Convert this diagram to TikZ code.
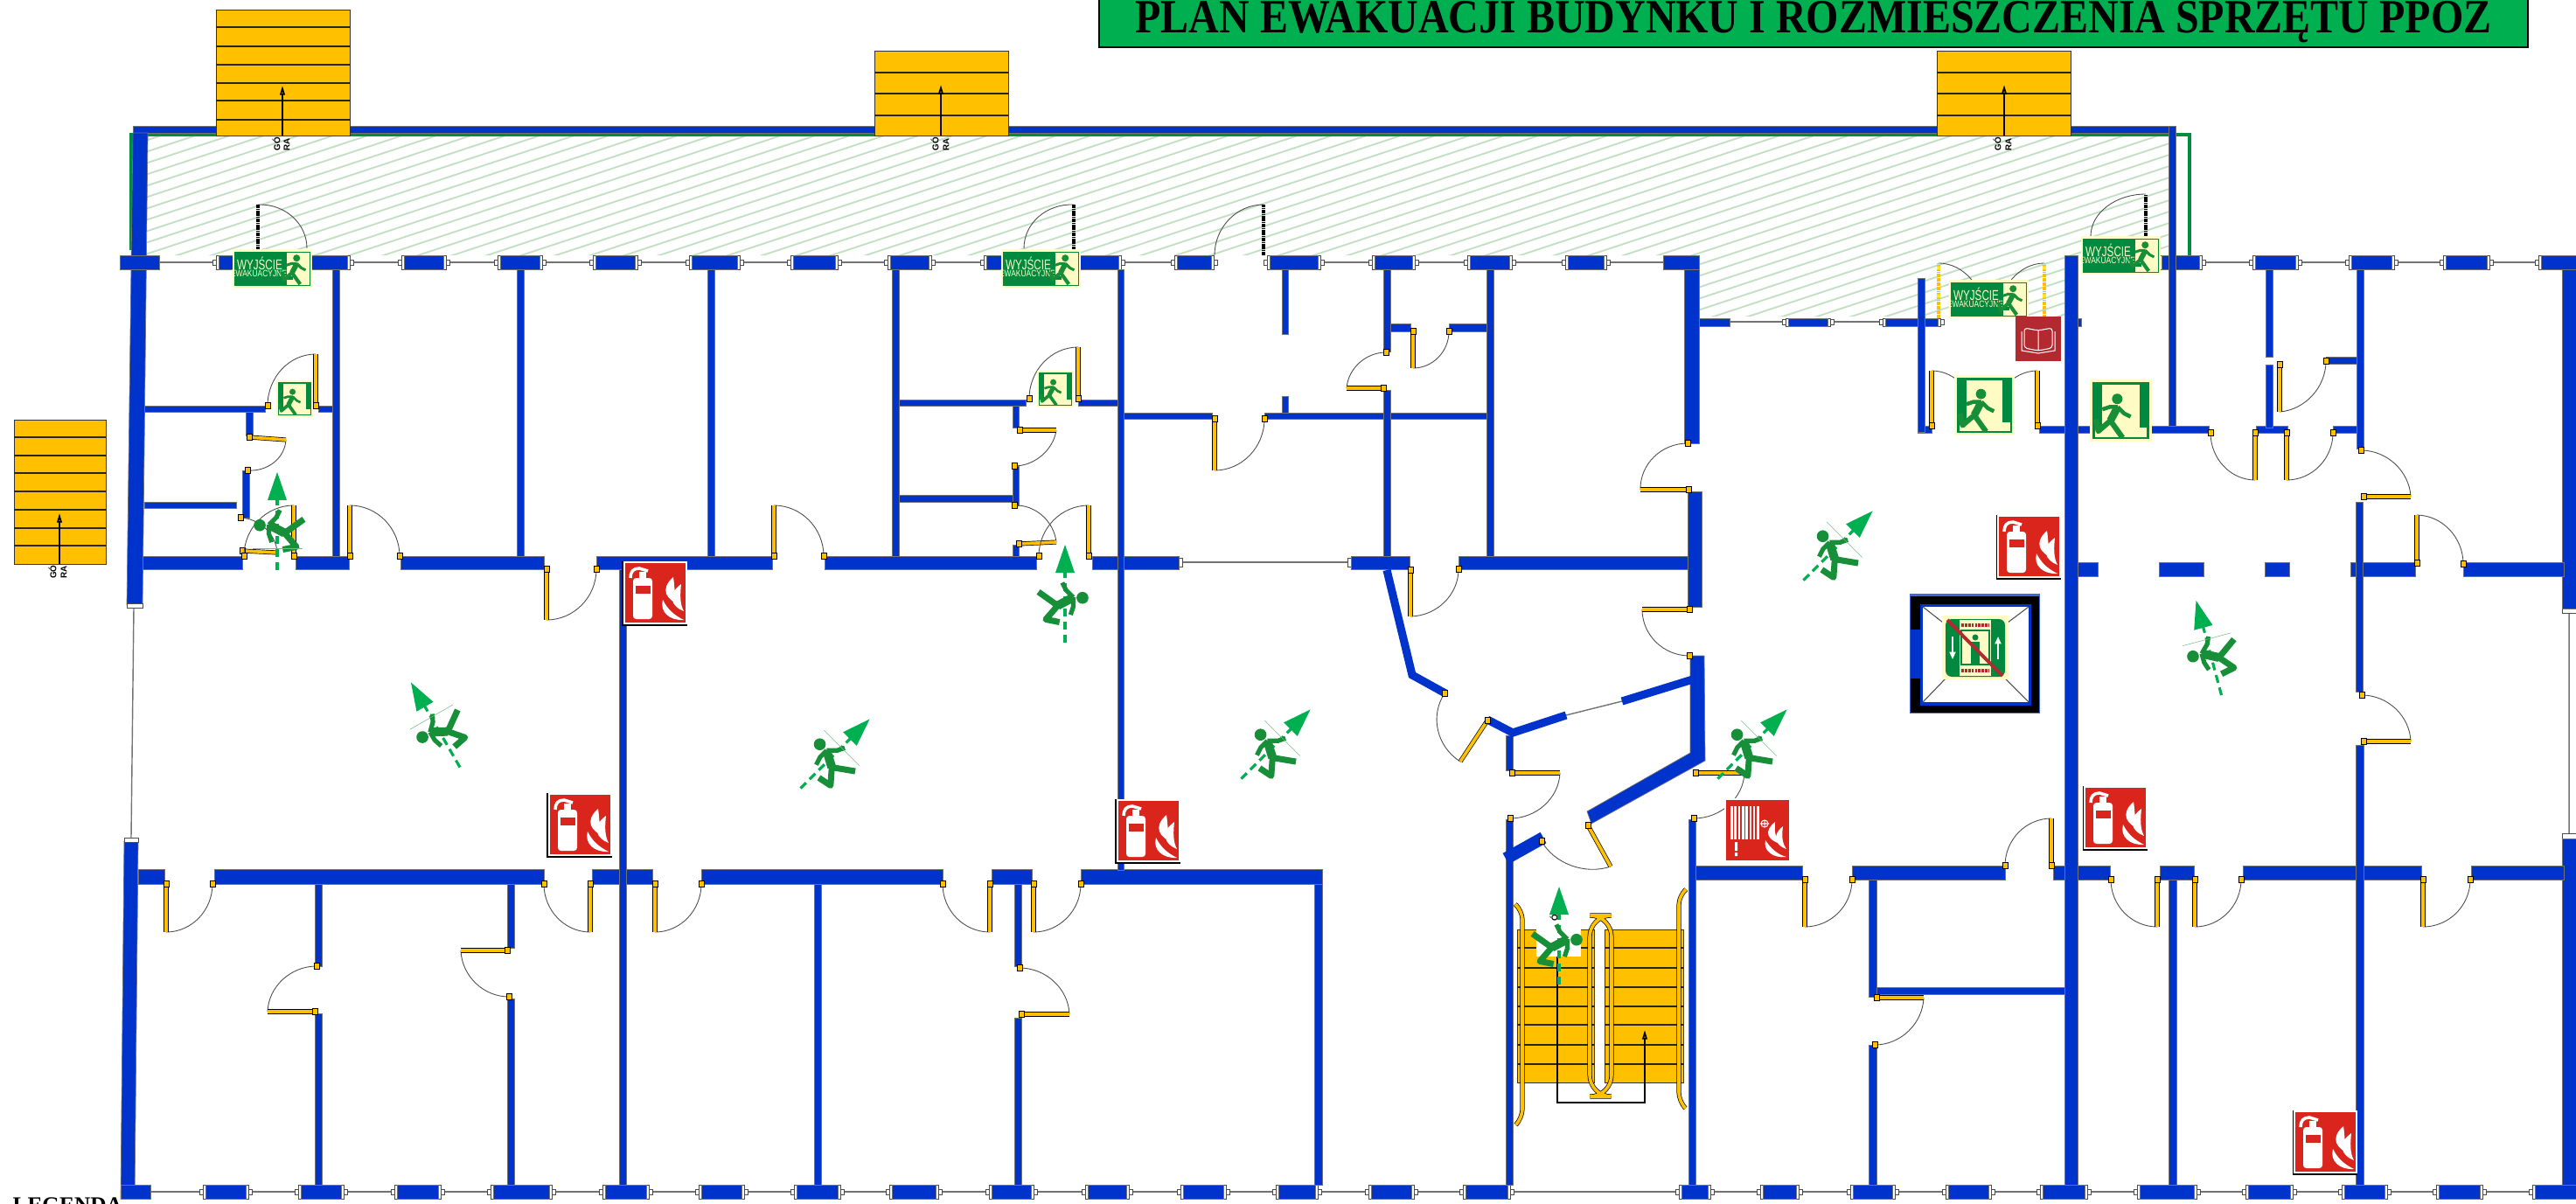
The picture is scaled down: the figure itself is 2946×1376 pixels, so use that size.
\documentclass[tikz,border=0pt]{standalone}
\usepackage{fontspec}
\usepackage{graphicx}
\usetikzlibrary{calc, arrows.meta}
\setmainfont{Liberation Serif}
\setsansfont{Liberation Sans}
\definecolor{wallblue}{HTML}{0033CC}
\definecolor{stairyellow}{HTML}{FFC000}
\definecolor{titlegreen}{HTML}{00B050}
\definecolor{signgreen}{HTML}{00893F}
\definecolor{mangreen}{HTML}{178F38}
\definecolor{signpale}{HTML}{FFFBC4}
\definecolor{signred}{HTML}{DA251D}
\definecolor{bookred}{HTML}{B22A30}
\definecolor{hatchgreen}{HTML}{C4E0C4}
\tikzset{
	wall/.style={fill=wallblue, draw=black!55, line width=.2pt}, % walls as filled boxes
	wallline/.style={draw=wallblue, line cap=butt},
	wincap/.style={fill=white, draw=black!70, line width=.2pt},
	glass/.style={draw=black!55, line width=.4pt},
	swing/.style={draw=black!70, line width=.25pt},
	leaf/.style={draw=black, double=stairyellow, double distance=1.05pt, line width=.2pt},
	blackleaf/.style={draw=black, line width=1.1pt, dash pattern=on .5pt off .15pt},
	dotleaf/.style={draw=stairyellow, line width=.9pt, dash pattern=on .5pt off .2pt},
	jamb/.style={fill=stairyellow, draw=black, line width=.15pt},
	stairbox/.style={fill=stairyellow, draw=black!80, line width=.25pt},
	stepline/.style={draw=black!85, line width=.4pt},
	stairtext/.style={rotate=90, inner sep=0pt, font=\sffamily\bfseries\fontsize{2.8}{3}\selectfont},
	signtext/.style={text=signpale, inner sep=0pt, font=\sffamily},
}
% door: style, hinge, leaf tip, other jamb
\newcommand{\door}[7][leaf]{%
	\draw[swing] (#4,#5) .. controls ($(#4,#5)+0.55*(#6,#7)-0.55*(#2,#3)$) and ($(#6,#7)+0.55*(#4,#5)-0.55*(#2,#3)$) .. (#6,#7);
	\draw[#1] (#2,#3) -- (#4,#5);
}
% window blocks of a row: top, bottom, list
\newcommand{\winblocks}[3]{%
	\foreach \a/\b in {#3}{
		\draw[wincap] ({\a-3},{(#1+#2)/2-3}) rectangle ({\b+7},{(#1+#2)/2+3});
		\draw[wincap] ({\a-7},{(#1+#2)/2-3}) rectangle ({\a-3},{(#1+#2)/2+3});
		\draw[wincap] ({\a-3},#1) rectangle ({\b+3},#2);
		\draw[wall] (\a,#1) rectangle (\b,#2);
	}
}
% running man, x forward, y down
\newcommand{\manfig}[1]{%
	\begin{scope}[scale=#1, line join=round]
		\fill[mangreen] (-4.5,-19) circle (6.5);
		\draw[mangreen, line width=#1*2.7pt] (-4,-9) -- (-13,8);
		\draw[mangreen, line width=#1*1.9pt] (-13,8) -- (2,29);
		\draw[mangreen, line width=#1*1.9pt] (-13,8) -- (-28,21) -- (-31,6);
		\draw[mangreen, line width=#1*1.4pt] (-4,-9) -- (4,-1) -- (12,3);
		\draw[mangreen, line width=#1*1.4pt] (-4,-9) -- (-14,-9) -- (-23,-6);
	\end{scope}
}
% middle of path, angle, flip
\newcommand{\runner}[4]{%
	\begin{scope}[shift={(#1,#2)}, rotate=#3, yscale=#4]
		\draw[titlegreen, line width=.9pt, dash pattern=on 2.6pt off 1.6pt] (-56,0) -- (26,0);
		\fill[titlegreen] (24,-11) -- (56,0) -- (24,11) -- cycle;
		\manfig{1.05}
	\end{scope}
}
% faint edge beside a runner
\newcommand{\runedge}[4]{%
	\begin{scope}[shift={(#1,#2)}, rotate=#3]
		\draw[mangreen!60, line width=.15pt] (#4,-28) -- (#4,29);
	\end{scope}
}
% extinguisher sign, top left corner
\newcommand{\firesign}[2]{%
	\begin{scope}[shift={(#1,#2)}]
		\draw[black, line width=.3pt] (0,0) -- (0,73) -- (74,73);
		\fill[white] (1,0) rectangle (74,72);
		\fill[signred] (3,2) rectangle (72,70);
		\fill[white, rounded corners=1] (12,19) rectangle (34,66);
		\fill[signred] (15,28) rectangle (32,37);
		\fill[white] (19,12) rectangle (27,19);
		\draw[white, line width=1pt] (29,11) -- (19,8) .. controls (12,8) and (9,12) .. (9,19);
		\fill[white] (58,18) .. controls (42,32) and (50,44) .. (66,50) .. controls (58,38) and (60,30) .. (58,18);
		\fill[white] (67,26) .. controls (50,38) and (56,52) .. (70,57) .. controls (65,48) and (66,36) .. (67,26);
		\fill[white] (46,44) .. controls (42,58) and (54,68) .. (70,67) .. controls (60,62) and (52,56) .. (46,44);
	\end{scope}
}
% exit sign, landscape
\newcommand{\exitwide}[3]{%
	\begin{scope}[shift={(#1,#2)}]
		\fill[signpale] (0,0) rectangle (91,44);
		\fill[signgreen] (2,3) rectangle (89,42);
		\fill[signpale] (62,4) rectangle (88,41);
		\fill[signgreen] (60,31) rectangle (69,35);
		\node[signtext] (#3top) at (31,16) {\fontsize{4.6}{5}\selectfont\scalebox{.72}[1]{WYJŚCIE}};
		\node[signtext] (#3bot) at (30,28) {\fontsize{3}{3.5}\selectfont\scalebox{.8}[1]{EWAKUACYJNE}};
		\begin{scope}[shift={(76,22)}]
			\manfig{.62}
		\end{scope}
	\end{scope}
}
% exit sign with door: corner and size
\newcommand{\exitdoor}[3]{%
	\pgfmathsetmacro\sg{#3/100}
	\begin{scope}[shift={(#1,#2)}, scale=\sg]
		\fill[signpale] (0,0) rectangle (100,100);
		\fill[signgreen] (4,4) rectangle (96,96);
		\fill[signpale] (20,9) rectangle (80,85);
		\fill[signpale] (8,78) rectangle (92,93);
		\fill[signgreen] (8,78) rectangle (18,74);
	\end{scope}
	\begin{scope}[shift={({#1+#3*.5},{#2+#3*.56})}]
		\manfig{\sg*1.3}
	\end{scope}
}
% GORA marks below a stair
\newcommand{\goramark}[4]{%
	\node[stairtext] (#4a) at (#1,#3) {GÓ};
	\node[stairtext] (#4b) at (#2,#3) {RA};
}
\begin{document}
\begin{tikzpicture}[x=0.01cm, y=-0.01cm]
	\useasboundingbox (0,0) rectangle (2946,1376);
	% Hatched terrace
	\begin{scope}
		\clip (168,156) -- (2480,156) -- (2480,292) -- (2361,292) -- (2361,362) -- (1943,362) -- (1943,292) -- (168,292) -- cycle;
		\foreach \k in {0,...,92}
			\draw[hatchgreen, line width=.55pt] (160,{150+\k*13}) -- (2490,{150+\k*13-769});
	\end{scope}
	\draw[titlegreen!80!black, line width=.9pt] (150,286) -- (150,154) -- (2504,154) -- (2504,292);

	% Glass lines
	\draw[glass] (182,300) -- (1389,300) (1448,300) -- (1902,300) (2515,300) -- (2946,300);
	\draw[glass] (1979,368) -- (2216,368);
	\draw[glass] (1348,643) -- (1545,643);
	\draw[glass] (138,1363) -- (2946,1363);
	\draw[glass] (153,695) -- (150,958) (2938,700) -- (2938,955);
	\draw[glass] (1855,802) -- (1791,818);

	% Outer walls
	\draw[wall] (152,144) rectangle (2488,152);
	\draw[wall] (152,152) -- (169,152) -- (163,692) -- (145,692) -- cycle;
	\draw[wall] (142,962) -- (158,962) -- (154,1371) -- (138,1371) -- cycle;
	\draw[wincap] (145,690) rectangle (163,695);
	\draw[wincap] (142,958) rectangle (158,963);
	\draw[wincap] (2930,696) rectangle (2946,701);
	\draw[wincap] (2930,953) rectangle (2946,959);
	\draw[wall] (2930,308) rectangle (2950,696);
	\draw[wall] (2930,959) rectangle (2950,1371);

	% Window rows
	\winblocks{292}{308}{250/397,462/507,572/617,681/726,791/843,907/955,1018/1062,1128/1279,1346/1385,1452/1507,1572/1615,1681/1726,1793/1834,2472/2515,2579/2625,2689/2735,2797/2844,2906/2950}
	\winblocks{364}{373}{2045/2090,2156/2216}
	\winblocks{1355}{1371}{235/281,344/390,454/501,564/628,692/739,802/848,911/958,1020/1070,1134/1179,1244/1288,1353/1399,1462/1504,1568/1614,1676/1724,1923/1953,2016/2054,2119/2164,2228/2274,2336/2384,2447/2509,2571/2619,2681/2727,2789/2836,2899/2950}
	\draw[wall] (137,292) rectangle (182,308);
	\draw[wall] (1902,292) rectangle (1943,308);
	\draw[wall] (1943,364) rectangle (1978,373);
	\draw[wall] (2376,364) rectangle (2380,373);
	\draw[wall] (138,1355) rectangle (172,1371);
	\draw[wincap] (1348,638) rectangle (1352,648);
	\draw[wincap] (1541,638) rectangle (1545,648);

	% Thick horizontal walls
	\foreach \a/\b in {163/277,338/399,458/622,682/883,943/1185,1249/1348,1545/1612,1668/1934}
		\draw[wall] (\a,636) rectangle (\b,651);
	\foreach \a/\b in {158/188,245/622,677/746,802/1078,1134/1180,1236/1512}
		\draw[wall] (\a,994) rectangle (\b,1011);
	\foreach \a/\b in {1939/2061,2118/2293,2348/2413,2470/2509,2565/2769,2826/2932}
		\draw[wall] (\a,990) rectangle (\b,1006);
	\foreach \a/\b in {2376/2399,2469/2520,2590/2618,2688/2762,2817/2932}
		\draw[wall] (\a,643) rectangle (\b,659);

	% Thin horizontal walls
	\foreach \a/\b/\c/\d in {165/464/303/471,364/464/380/471,165/574/270/581,1028/457/1173/464,1233/457/1278/464,1028/566/1158/574,1285/472/1386/479,1446/472/1700/479,1590/370/1613/379,1657/370/1700/379,2146/1129/2361/1137,2660/408/2695/416,2193/487/2209/495,2332/487/2526/495,2580/487/2616/495,2668/487/2695/495}
		\draw[wall] (\a,\b) rectangle (\c,\d);

	% Vertical walls
	\foreach \a/\b/\c/\d in {380/308/388/636,591/308/599/636,809/308/817/636,1020/308/1028/636,1278/308/1285/995,1700/308/1708/636,1582/308/1590/402,1582/446/1590/636,1466/308/1473/382,1466/453/1473/472,281/471/289/498,277/538/285/592,1158/464/1165/489,1158/533/1165/578,1158/623/1165/636,708/651/716/1355,360/1011/368/1105,360/1159/368/1355,580/1011/588/1084,580/1142/588/1355,931/1011/939/1355,1160/1011/1168/1105,1160/1164/1168/1355,1503/1011/1512/1355,1722/937/1730/1355,1722/841/1730/881,1931/937/1939/1355,1926/308/1943/507,1930/562/1946/694,2193/318/2201/494,2361/292/2376/1355,2480/144/2488/487,2480/1006/2489/1355,2591/308/2599/408,2591/417/2599/489,2695/308/2703/513,2694/574/2702/791,2694/852/2703/1355,2137/1006/2146/1140,2137/1195/2146/1355}
		\draw[wall] (\a,\b) rectangle (\c,\d);

	% Slanted walls
	\draw[wall] (1933,750) -- (1949,750) -- (1950,870) -- (1820,942) -- (1815,928) -- (1933,861) -- cycle;
	\draw[wallline, line width=2.6pt] (1855,802) -- (1936,777);
	\draw[wallline, line width=2.6pt] (1791,818) -- (1730,838) -- (1701,823);
	\draw[wallline, line width=2.6pt] (1586,652) -- (1615,772) -- (1653,793);
	\draw[wallline, line width=4pt] (1722,982) -- (1765,958);

	% Doors with yellow leaf
	\foreach \hx/\hy/\tx/\ty/\jx/\jy in {361/464/361/405/306/464,285/500/327/503/283/538,277/630/317/632/275/592,336/636/336/578/279/636,1233/456/1233/397/1177/456,1166/492/1208/492/1160/533,1165/622/1208/620/1160/578,1245/636/1245/578/1188/636,400/636/400/578/457/636,885/636/885/578/942/636,625/651/625/709/682/651,1389/479/1389/538/1446/479,1616/379/1616/421/1657/379,1582/444/1540/444/1585/403,1613/652/1613/705/1668/651,1931/560/1876/560/1930/507,1932/697/1878/697/1932/750,1701/824/1670/871/1652/793,1729/884/1784/884/1727/936,1816/944/1842/991/1763/962,1939/884/1995/884/1937/936,190/1011/190/1066/243/1011,675/1011/675/1066/622/1011,749/1011/749/1066/802/1011,1132/1011/1132/1066/1078/1011,1182/1011/1182/1066/1236/1011,360/1157/306/1157/362/1105,580/1087/527/1087/582/1140,1168/1160/1223/1160/1166/1107,2064/1006/2064/1060/2118/1006,2346/990/2346/936/2293/990,2467/1006/2467/1060/2414/1006,2510/1006/2510/1060/2563/1006,2771/1006/2771/1060/2825/1006,2146/1141/2200/1141/2144/1195,2703/848/2757/848/2701/795,2703/568/2757/568/2700/515,2764/644/2764/589/2817/645,2607/417/2607/471/2660/413,2579/495/2579/549/2528/495,2615/495/2615/549/2668/495,2209/487/2209/424/2262/487,2330/487/2330/424/2277/487}{
		\door{\hx}{\hy}{\tx}{\ty}{\jx}{\jy}
		\draw[jamb] ({\hx-3},{\hy-3.5}) rectangle ({\hx+3},{\hy+3.5});
		\draw[jamb] ({\jx-3},{\jy-3.5}) rectangle ({\jx+3},{\jy+3.5});
	}
	% Doors to the terrace
	\door[blackleaf]{295}{286}{295}{234}{351}{284}
	\door[blackleaf]{1228}{286}{1228}{234}{1171}{284}
	\door[blackleaf]{1445}{292}{1445}{234}{1389}{292}
	\door[blackleaf]{2454}{270}{2454}{222}{2391}{270}
	\door[dotleaf]{2217}{364}{2217}{301}{2270}{364}
	\door[dotleaf]{2338}{364}{2338}{301}{2285}{364}

	% Outside stairs
	\foreach \x/\X/\yt/\yb/\steps/\ax/\ay in {247/400/11/155/{31,53,74,95,115,137}/323/98,1000/1153/58/155/{83,107,132}/1076/97,2215/2368/58/155/{83,107,132}/2292/97,16/121/480/645/{500,521,541,562,583,604,624}/68/587}{
		\draw[stairbox] (\x,\yt) rectangle (\X,\yb);
		\foreach \s in \steps
			\draw[stepline] (\x,\s) -- (\X,\s);
		\draw[black, line width=.5pt, -{Triangle[open, fill=stairyellow, length=3pt, width=1.6pt]}] (\ax,\yb) -- (\ax,\ay);
	}
	\goramark{316}{328}{165}{goraA}
	\goramark{1069}{1082}{165}{goraB}
	\goramark{2284}{2297}{165}{goraC}
	\goramark{60}{73}{654}{goraD}

	% Inside stair
	\draw[stairbox] (1735,1063) rectangle (1823,1238);
	\draw[stairbox] (1835,1063) rectangle (1925,1238);
	\foreach \s in {1084,1107,1129,1151,1172,1195,1217}
		\draw[stepline] (1735,\s) -- (1823,\s) (1835,\s) -- (1925,\s);
	\draw[leaf, rounded corners=7] (1818,1047) rectangle (1843,1254);
	\draw[leaf, rounded corners=3] (1735,1036) -- (1741,1041) -- (1741,1279) -- (1735,1285);
	\draw[leaf, rounded corners=3] (1926,1019) -- (1920,1024) -- (1920,1260) -- (1926,1266);
	\draw[black, line width=.5pt, -{Triangle[open, fill=stairyellow, length=3pt, width=1.6pt]}] (1781,1093) -- (1781,1261) -- (1881,1261) -- (1881,1178);
	\fill[white] (1757,1063) rectangle (1808,1094);
	\node[stairtext] (goraE) at (1777,1046) {ÓR};

	% Lift shaft
	\fill[wallblue!75] (2184,679) rectangle (2333,816);
	\fill[black] (2185,682) rectangle (2332,815);
	\fill[wallblue] (2196,691) rectangle (2323,807);
	\fill[white] (2199,694) rectangle (2320,803);
	\fill[wallblue] (2185,720) rectangle (2196,776);
	\draw[black!70, line width=.3pt] (2199,694) -- (2222,712) (2320,694) -- (2296,712) (2199,803) -- (2226,775) (2320,803) -- (2292,775);
	\fill[signpale] (2221,704) rectangle (2297,777);
	\fill[signgreen, rounded corners=2] (2225,708) rectangle (2293,774);
	\fill[signpale] (2241,709) rectangle (2277,773);
	\draw[signgreen, line width=.5pt] (2243,721) rectangle (2275,760);
	\foreach \y in {715,767}
		\draw[bookred, line width=1.2pt, dash pattern=on .8pt off .3pt] (2243,\y) -- (2275,\y);
	\fill[signgreen] (2259,729) circle (3.5);
	\fill[signgreen] (2254,734) rectangle (2264,759);
	\draw[white, line width=.5pt, -{Triangle[length=2.4pt, width=2pt]}] (2233,728) -- (2233,754);
	\draw[white, line width=.5pt, -{Triangle[length=2.4pt, width=2pt]}] (2285,754) -- (2285,728);
	\draw[bookred, line width=1.1pt] (2227,709) -- (2290,773);

	% Extinguishers
	\firesign{712}{642}
	\firesign{626}{907}
	\firesign{1276}{914}
	\firesign{2283}{589}
	\firesign{2382}{899}
	\firesign{2622}{1270}

	% Hose reel sign
	\begin{scope}[shift={(1972,913)}]
		\fill[white] (0,0) rectangle (76,74);
		\fill[signred] (2,2) rectangle (74,71);
		\foreach \i in {0,...,7}
			\fill[white] ({7+\i*4.3},9) rectangle ({9.6+\i*4.3},47);
		\fill[white] (12,50) rectangle (15,60) (12,62) rectangle (15,66);
		\draw[white, line width=.3pt] (46,29) circle (4) (41,29) -- (51,29) (46,25) -- (46,33);
		\fill[white] (58,27) .. controls (44,38) and (50,48) .. (64,52) .. controls (56,42) and (58,34) .. (58,27);
		\fill[white] (67,32) .. controls (54,42) and (58,54) .. (71,58) .. controls (65,50) and (66,40) .. (67,32);
		\fill[white] (47,48) .. controls (44,60) and (56,69) .. (71,67) .. controls (60,64) and (53,57) .. (47,48);
	\end{scope}

	% Exit signs
	\exitwide{266}{285}{exitA}
	\exitwide{1145}{285}{exitB}
	\exitwide{2229}{320}{exitC}
	\exitwide{2380}{270}{exitD}
	\exitdoor{316}{435}{42}
	\exitdoor{1186}{424}{42}
	\exitdoor{2235}{429}{69}
	\exitdoor{2390}{434}{71}

	% Manual sign
	\begin{scope}[shift={(2305,362)}]
		\fill[bookred] (0,0) rectangle (52,51);
		\draw[white, line width=.3pt, rounded corners=1] (26,39) -- (10,36) -- (10,13) -- (26,16) -- (42,13) -- (42,36) -- cycle;
		\draw[white, line width=.3pt] (26,16) -- (26,39) (7,17) -- (7,39) -- (26,42) -- (45,39) -- (45,17);
	\end{scope}

	% Escape directions
	\runner{317}{596}{90}{1}
	\runner{1218}{679}{90}{-1}
	\runner{498}{829}{120}{1}
	\runner{955}{862}{45}{1}
	\runner{1459}{851}{45}{1}
	\runner{2004}{851}{45}{1}
	\runner{2102}{624}{45}{1}
	\runner{2526}{741}{105}{1}
	\runner{1783}{1070}{90}{-1}
	\runedge{317}{596}{90}{-31}
	\runedge{498}{829}{120}{10}
	\runedge{955}{862}{45}{10}
	\runedge{1459}{851}{45}{10}
	\runedge{2004}{851}{45}{10}
	\runedge{2102}{624}{45}{10}
	\runedge{2526}{741}{105}{10}

	% Title and legend
	\draw[fill=titlegreen, draw=black, line width=.5pt] (1257,-5) rectangle (2891,54);
	\node[anchor=base, inner sep=0pt, font=\bfseries\fontsize{15.5}{18}\selectfont] (plantitle) at (2074,38) {\scalebox{.88}[1]{PLAN EWAKUACJI BUDYNKU I ROZMIESZCZENIA SPRZĘTU PPOZ}};
	\node[anchor=north west, inner sep=0pt, font=\bfseries\fontsize{7.2}{8}\selectfont] (legenda) at (14,1369) {LEGENDA};
\end{tikzpicture}
\end{document}
